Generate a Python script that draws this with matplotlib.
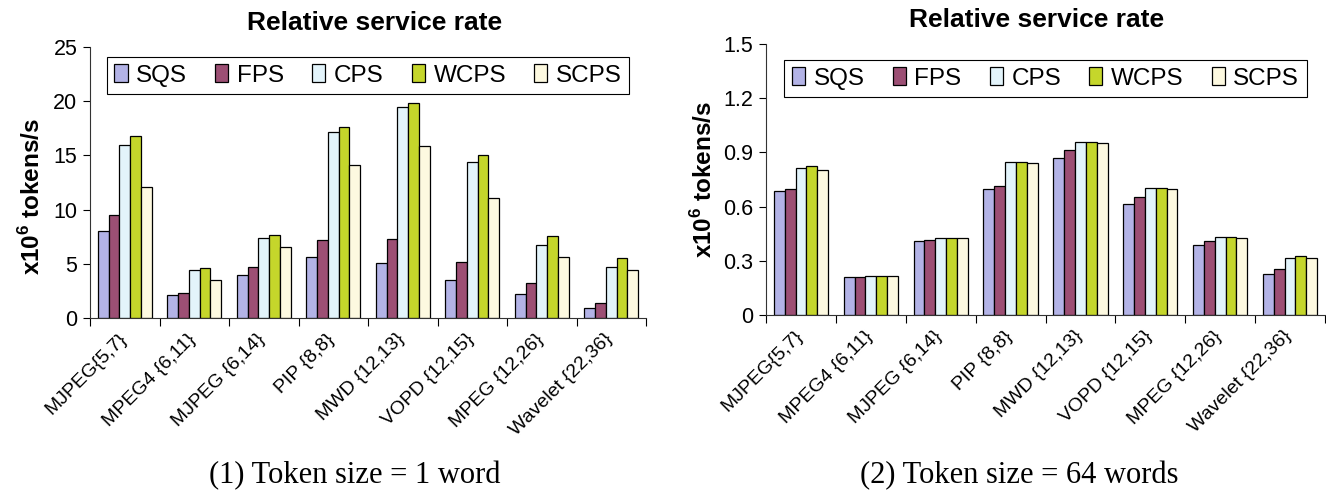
import matplotlib
matplotlib.use("Agg")
import matplotlib.pyplot as plt
import numpy as np

# benchmark names and scheduling schemes
apps = ["MJPEG{5,7}", "MPEG4 {6,11}", "MJPEG {6,14}", "PIP {8,8}",
        "MWD {12,13}", "VOPD {12,15}", "MPEG {12,26}", "Wavelet {22,36}"]
schemes = ["SQS", "FPS", "CPS", "WCPS", "SCPS"]
colors = ["#b3b3e6", "#9c4f74", "#e3f4fb", "#c5d62b", "#fdf9e0"]

# token size = 1 word (x10^6 tokens/s)
sqs_1 = [8.0, 2.1, 4.0, 5.65, 5.05, 3.55, 2.25, 0.9]
fps_1 = [9.5, 2.35, 4.75, 7.15, 7.3, 5.2, 3.25, 1.35]
cps_1 = [16.0, 4.45, 7.4, 17.2, 19.45, 14.4, 6.7, 4.75]
wcps_1 = [16.8, 4.6, 7.7, 17.65, 19.85, 15.0, 7.55, 5.5]
scps_1 = [12.1, 3.55, 6.55, 14.1, 15.9, 11.1, 5.65, 4.45]

# token size = 64 words
sqs_64 = [0.687, 0.209, 0.408, 0.696, 0.868, 0.616, 0.389, 0.225]
fps_64 = [0.698, 0.209, 0.417, 0.715, 0.912, 0.652, 0.408, 0.253]
cps_64 = [0.814, 0.216, 0.425, 0.849, 0.957, 0.704, 0.434, 0.317]
wcps_64 = [0.825, 0.216, 0.425, 0.849, 0.957, 0.704, 0.434, 0.326]
scps_64 = [0.804, 0.216, 0.425, 0.842, 0.950, 0.696, 0.425, 0.317]

plt.rcParams["font.family"] = ["Liberation Sans", "DejaVu Sans"]
plt.rcParams["mathtext.fontset"] = "custom"
plt.rcParams["mathtext.rm"] = "Liberation Sans"
plt.rcParams["mathtext.bf"] = "Liberation Sans:bold"

W, H = 1326, 493
fig = plt.figure(figsize=(W / 100, H / 100), dpi=100)
# axes placed in pixel terms: left, right, top, bottom
ax1 = fig.add_axes([90 / W, (H - 318) / H, 556 / W, 271 / H])
ax2 = fig.add_axes([766 / W, (H - 315) / H, 559 / W, 271 / H])


def draw(ax, series, ymax, step, fmt, title_x, leg_top, ylab_x, ylab_y):
    x = np.arange(len(apps))
    w = 0.155
    for i, (vals, c, name) in enumerate(zip(series, colors, schemes)):
        ax.bar(x + (i - 2) * w, vals, w, color=c, edgecolor="black",
               linewidth=0.9, label=name)
    ticks = np.arange(0, ymax + step / 2, step)
    ax.set_xlim(-0.5, len(apps) - 0.5)
    ax.set_ylim(0, ymax)
    ax.set_yticks(ticks)
    ax.set_yticklabels([fmt(v) for v in ticks], fontsize=15.5)
    ax.set_xticks(np.arange(-0.5, len(apps), 1.0))
    ax.set_xticklabels([])
    ax.set_xticks(x - 0.1, minor=True)
    ax.set_xticklabels(apps, minor=True, rotation=45, ha="right",
                       rotation_mode="anchor", fontsize=14)
    ax.tick_params(axis="x", which="minor", length=0, pad=9)
    ax.tick_params(axis="x", which="major", length=6, direction="out")
    ax.tick_params(axis="y", length=5, direction="out", pad=4)
    for s in ["top", "right"]:
        ax.spines[s].set_visible(False)
    for s in ["left", "bottom"]:
        ax.spines[s].set_color("#333333")
    ax.set_title("Relative service rate", fontsize=19, fontweight="bold",
                 pad=12, x=title_x)
    ax.set_ylabel("x10$^{\\mathbf{6}}$ tokens/s", fontsize=17.5, fontweight="bold")
    ax.yaxis.set_label_coords(ylab_x, ylab_y)
    leg = ax.legend(loc="upper center", ncol=5, fontsize=17.5, frameon=True,
                    fancybox=False, edgecolor="black", handlelength=0.55,
                    handleheight=0.75, handletextpad=0.35, columnspacing=1.15,
                    borderpad=0.3, borderaxespad=0, framealpha=1,
                    bbox_to_anchor=(0.5, leg_top))
    leg.get_frame().set_linewidth(0.8)


draw(ax1, [sqs_1, fps_1, cps_1, wcps_1, scps_1], 25, 5, lambda v: f"{v:.0f}",
     0.512, 1 - 10 / 271, -0.082, 1 - 150 / 271)
draw(ax2, [sqs_64, fps_64, cps_64, wcps_64, scps_64], 1.5, 0.3,
     lambda v: "0" if v == 0 else f"{v:.1f}",
     0.484, 1 - 16 / 271, -0.088, 0.5)

fig.text(355 / W, 10 / H, "(1) Token size = 1 word", ha="center", va="baseline",
         fontsize=22, family=["Liberation Serif", "DejaVu Serif"])
fig.text(1019 / W, 10 / H, "(2) Token size = 64 words", ha="center", va="baseline",
         fontsize=22, family=["Liberation Serif", "DejaVu Serif"])

fig.savefig("out.png", dpi=100)
